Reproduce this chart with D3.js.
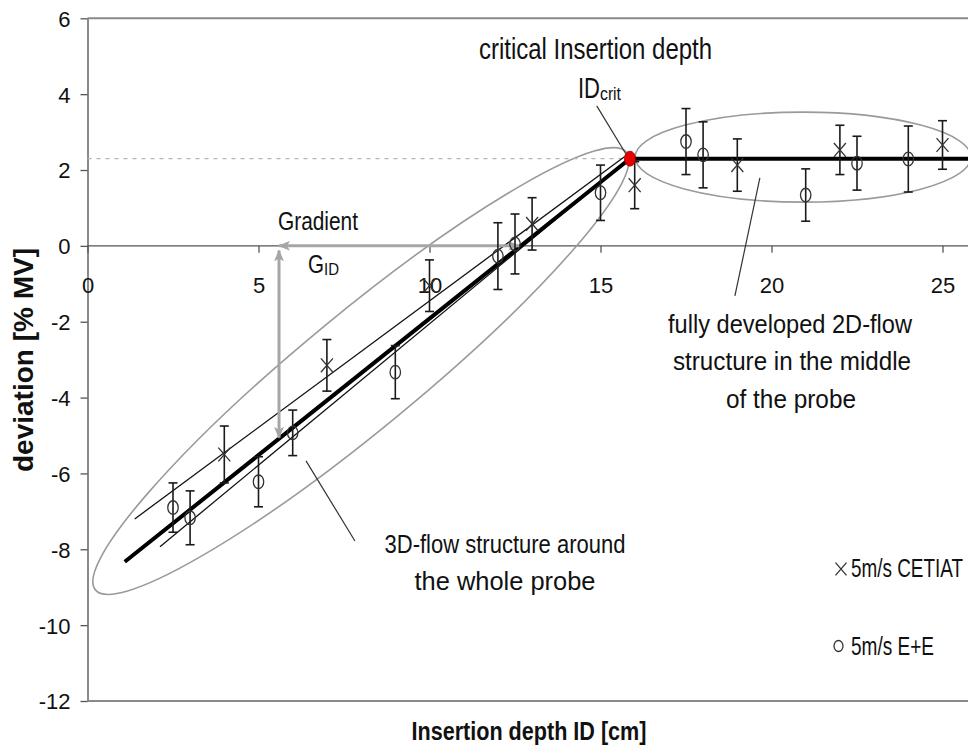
<!DOCTYPE html>
<html><head><meta charset="utf-8">
<script src="https://cdn.jsdelivr.net/npm/d3@7"></script>
<style>body{margin:0;background:#fff}svg{display:block}</style>
</head><body>
<svg id="c" width="968" height="747"></svg>
<script>
// ---------- data ----------
const xTicks = [0, 5, 10, 15, 20, 25];
const yTicks = [-12, -10, -8, -6, -4, -2, 0, 2, 4, 6];

const cetiatX   = [4, 7, 10, 13, 16, 19, 22, 25];
const cetiatY   = [-5.5, -3.15, -1.05, 0.58, 1.6, 2.13, 2.53, 2.66];
const cetiatErr = [0.75, 0.68, 0.68, 0.69, 0.62, 0.69, 0.65, 0.64];

const eeX   = [2.5, 3, 5, 6, 9, 12, 12.5, 15, 17.5, 18, 21, 22.5, 24];
const eeY   = [-6.9, -7.17, -6.22, -4.93, -3.33, -0.27, 0.05, 1.40, 2.75, 2.40, 1.34, 2.18, 2.29];
const eeErr = [0.65, 0.71, 0.66, 0.6, 0.7, 0.88, 0.79, 0.73, 0.87, 0.87, 0.69, 0.71, 0.87];

const critX = [15.86];
const critY = [2.3];

const fitAllX = [1.09, 15.86, 26];
const fitAllY = [-8.33, 2.3, 2.3];
const fitCetiatX = [1.38, 15.7];
const fitCetiatY = [-7.2, 2.35];
const fitEEX = [2.12, 15.8];
const fitEEY = [-7.93, 2.27];

const gradH = [[12.62, 0], [5.6, 0]];
const gradV = [[5.6, 0], [5.6, -5.06]];

const ellipse3DTips = [[0.23, -9.07], [15.76, 2.47]];
const ellipse2DTips = [[16.01, 2.34], [25.83, 2.34]];

const leaderCrit = [[14.89, 3.69], [15.74, 2.43]];
const leader2D   = [[19.66, 1.79], [18.93, -1.32]];
const leader3D   = [[6.39, -5.67], [7.82, -7.78]];

const legendLabels = ["5m/s CETIAT", "5m/s E+E"];

// ---------- setup ----------
const FONT = "'Liberation Sans Narrow','Arial Narrow','Liberation Sans',Arial,sans-serif";
const svg = d3.select('#c');
const x = d3.scaleLinear().domain([0, 26]).range([87.5, 87.5 + 26 * 34.2]);
const y = d3.scaleLinear().domain([-12, 6]).range([701, 18.3]);
const line = d3.line().x(d => x(d[0])).y(d => y(d[1]));

const defs = svg.append('defs');
function arrowMarker(id, orient) {
  defs.append('marker').attr('id', id)
    .attr('markerUnits', 'userSpaceOnUse')
    .attr('viewBox', '0 0 12 10').attr('refX', 11).attr('refY', 5)
    .attr('markerWidth', 12).attr('markerHeight', 10)
    .attr('orient', orient)
    .append('path').attr('d', 'M0,0 L12,5 L0,10 L3,5 Z').attr('fill', '#a6a6a6');
}
arrowMarker('ah', 'auto');
arrowMarker('ahs', 'auto-start-reverse');

// frame
const frame = svg.append('g');
frame.append('line').attr('x1', x(0)).attr('x2', 968).attr('y1', y(6)).attr('y2', y(6))
  .attr('stroke', '#8a8a8a').attr('stroke-width', 2);
frame.append('line').attr('x1', x(0)).attr('x2', 968).attr('y1', y(-12)).attr('y2', y(-12))
  .attr('stroke', '#8a8a8a').attr('stroke-width', 2);

const fmt = d => String(d);

// y axis
const yAxis = svg.append('g').attr('transform', `translate(${x(0)},0)`)
  .call(d3.axisLeft(y).tickValues(yTicks).tickFormat(fmt).tickSize(7).tickSizeOuter(0).tickPadding(10));
yAxis.select('.domain').attr('stroke', '#8a8a8a').attr('stroke-width', 2);
yAxis.selectAll('.tick line').attr('stroke', '#555').attr('stroke-width', 1.3);
yAxis.selectAll('.tick text').attr('font-family', FONT).attr('font-size', 22).attr('fill', '#111')
  .attr('dy', '0.36em');

// x axis at y = 0
const xAxis = svg.append('g').attr('transform', `translate(0,${y(0)})`)
  .call(d3.axisBottom(x).tickValues(xTicks).tickFormat(fmt).tickSize(7).tickSizeOuter(0));
xAxis.select('.domain').attr('stroke', '#555').attr('stroke-width', 1.3)
  .attr('d', `M${x(0)},0H968`);
xAxis.selectAll('.tick line').attr('stroke', '#555').attr('stroke-width', 1.3);
xAxis.selectAll('.tick text').attr('font-family', FONT).attr('font-size', 22).attr('fill', '#111')
  .attr('y', 47).attr('dy', 0);

// ellipses
function ellipseFromTips(tips, minorPx) {
  const p1 = [x(tips[0][0]), y(tips[0][1])], p2 = [x(tips[1][0]), y(tips[1][1])];
  const cx = (p1[0] + p2[0]) / 2, cy = (p1[1] + p2[1]) / 2;
  const a = Math.hypot(p2[0] - p1[0], p2[1] - p1[1]) / 2;
  const ang = Math.atan2(p2[1] - p1[1], p2[0] - p1[0]) * 180 / Math.PI;
  svg.append('ellipse').attr('cx', 0).attr('cy', 0).attr('rx', a).attr('ry', minorPx)
    .attr('transform', `translate(${cx},${cy}) rotate(${ang})`)
    .attr('fill', 'none').attr('stroke', '#9a9a9a').attr('stroke-width', 1.6);
}
ellipseFromTips(ellipse3DTips, 58);
ellipseFromTips(ellipse2DTips, 45);

// dashed reference line to the critical point
svg.append('line').attr('x1', x(0)).attr('x2', x(critX[0])).attr('y1', y(critY[0])).attr('y2', y(critY[0]))
  .attr('stroke', '#b5b5b5').attr('stroke-width', 1.3).attr('stroke-dasharray', '4,5');

// fit lines
svg.append('path').datum(d3.zip(fitCetiatX, fitCetiatY)).attr('d', line)
  .attr('fill', 'none').attr('stroke', '#111').attr('stroke-width', 1.3);
svg.append('path').datum(d3.zip(fitEEX, fitEEY)).attr('d', line)
  .attr('fill', 'none').attr('stroke', '#111').attr('stroke-width', 1.3);
svg.append('path').datum(d3.zip(fitAllX, fitAllY)).attr('d', line)
  .attr('fill', 'none').attr('stroke', '#000').attr('stroke-width', 4);

// gradient arrows
svg.append('path').datum(gradH).attr('d', line).attr('fill', 'none')
  .attr('stroke', '#a6a6a6').attr('stroke-width', 3)
  .attr('marker-end', 'url(#ah)').attr('marker-start', 'url(#ahs)');
svg.append('path').datum([[gradV[0][0], gradV[0][1] - 0.12], gradV[1]]).attr('d', line).attr('fill', 'none')
  .attr('stroke', '#a6a6a6').attr('stroke-width', 3)
  .attr('marker-end', 'url(#ah)').attr('marker-start', 'url(#ahs)');

// error bars
function errorBars(xs, ys, es) {
  const g = svg.append('g').attr('stroke', '#1a1a1a').attr('stroke-width', 1.6);
  xs.forEach((xv, i) => {
    const px = x(xv), t = y(ys[i] + es[i]), b = y(ys[i] - es[i]);
    g.append('line').attr('x1', px).attr('x2', px).attr('y1', t).attr('y2', b);
    g.append('line').attr('x1', px - 4.5).attr('x2', px + 4.5).attr('y1', t).attr('y2', t);
    g.append('line').attr('x1', px - 4.5).attr('x2', px + 4.5).attr('y1', b).attr('y2', b);
  });
}
errorBars(cetiatX, cetiatY, cetiatErr);
errorBars(eeX, eeY, eeErr);

// markers
function drawX(g, px, py, s) {
  g.append('path').attr('d', `M${px - s},${py - s * 1.15}L${px + s},${py + s * 1.15}M${px - s},${py + s * 1.15}L${px + s},${py - s * 1.15}`)
    .attr('stroke', '#333').attr('stroke-width', 1.3).attr('fill', 'none');
}
const mg = svg.append('g');
cetiatX.forEach((xv, i) => drawX(mg, x(xv), y(cetiatY[i]), 6));
eeX.forEach((xv, i) => {
  mg.append('ellipse').attr('cx', x(xv)).attr('cy', y(eeY[i])).attr('rx', 5.2).attr('ry', 6.8)
    .attr('fill', 'none').attr('stroke', '#333').attr('stroke-width', 1.3);
});

// critical point
svg.selectAll('.crit').data(critX).join('ellipse').attr('class', 'crit')
  .attr('cx', d => x(d)).attr('cy', (d, i) => y(critY[i])).attr('rx', 5.5).attr('ry', 7.5)
  .attr('fill', '#e60000').attr('stroke', '#900').attr('stroke-width', 0.8);

// leader lines
[leaderCrit, leader2D, leader3D].forEach(l => {
  svg.append('path').datum(l).attr('d', line).attr('stroke', '#333').attr('stroke-width', 1.2).attr('fill', 'none');
});

// texts
function txt(str, px, py, size, len, anchor, weight) {
  const t = svg.append('text').attr('x', px).attr('y', py)
    .attr('font-family', FONT).attr('font-size', size).attr('fill', '#111')
    .attr('text-anchor', anchor || 'start').text(str);
  if (weight) t.attr('font-weight', weight);
  if (len) t.attr('textLength', len).attr('lengthAdjust', 'spacingAndGlyphs');
  return t;
}
function subTxt(main, sub, px, py, size, subSize, mainLen, subLen, subDy) {
  const t = svg.append('text').attr('x', px).attr('y', py)
    .attr('font-family', FONT).attr('fill', '#111');
  t.append('tspan').attr('font-size', size).attr('textLength', mainLen)
    .attr('lengthAdjust', 'spacingAndGlyphs').text(main);
  t.append('tspan').attr('font-size', subSize).attr('dy', subDy).attr('textLength', subLen)
    .attr('lengthAdjust', 'spacingAndGlyphs').text(sub);
  return t;
}
txt('critical Insertion depth', 479, 59, 30, 233);
subTxt('ID', 'crit', 578, 98, 30, 19, 22, 21, 2);
txt('Gradient', 278, 230, 25.5, 80);
subTxt('G', 'ID', 308, 273, 25.5, 17, 16, 15, 2);

txt('fully developed 2D-flow', 790, 333, 25.5, 244, 'middle');
txt('structure in the middle', 792, 370, 25.5, 238, 'middle');
txt('of the probe', 791, 408, 25.5, 130, 'middle');

txt('3D-flow structure around', 505, 553, 25.5, 241, 'middle');
txt('the whole probe', 505, 590, 25.5, 181, 'middle');

// legend
drawX(svg, 841, 569, 5.5);
txt(legendLabels[0], 851, 577, 25, 112);
svg.append('ellipse').attr('cx', 838.5).attr('cy', 646).attr('rx', 4.5).attr('ry', 5.5)
  .attr('fill', 'none').attr('stroke', '#333').attr('stroke-width', 1.3);
txt(legendLabels[1], 851, 655, 25, 83);

// axis titles
txt('Insertion depth ID [cm]', 529, 740, 25, 235, 'middle', 'bold');
svg.append('text').attr('transform', 'translate(33,360) rotate(-90)')
  .attr('font-family', FONT).attr('font-size', 27).attr('font-weight', 'bold').attr('fill', '#111')
  .attr('text-anchor', 'middle').attr('textLength', 224).attr('lengthAdjust', 'spacingAndGlyphs')
  .text('deviation [% MV]');
</script>
</body></html>
